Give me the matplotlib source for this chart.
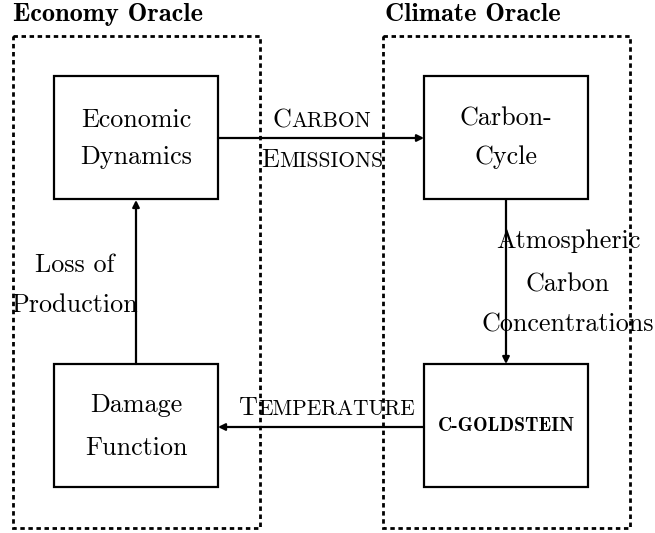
import matplotlib
matplotlib.use("Agg")
import matplotlib.pyplot as plt
from matplotlib.patches import Rectangle

# 面板标题
oracle_titles = ["Economy Oracle", "Climate Oracle"]
# 方框内文字
box_labels = [["Economic", "Dynamics"], ["Carbon-", "Cycle"], ["Damage", "Function"]]
goldstein_label = "C-GOLDSTEIN"
# 箭头标签 (小型大写字母)
emissions_words = ["Carbon", "Emissions"]
temperature_word = "Temperature"
atmos_lines = ["Atmospheric", "Carbon", "Concentrations"]
loss_lines = ["Loss of", "Production"]

W, H = 655, 533
fig = plt.figure(figsize=(W / 100, H / 100), dpi=100)
ax = fig.add_axes([0, 0, 1, 1])
ax.set_xlim(0, W)
ax.set_ylim(H, 0)
ax.axis("off")

FS = 18.8
SERIF = "cmr10"

# 虚线大框
for x0 in (13, 383):
    ax.add_patch(Rectangle((x0, 36), 247, 492, fill=False, lw=2.0,
                           ls=(0, (1.6, 1.3)), ec="black"))
ax.text(13, 21, oracle_titles[0], family="cmb10", fontsize=19, va="baseline", ha="left")
ax.text(385, 21, oracle_titles[1], family="cmb10", fontsize=19, va="baseline", ha="left")

# 实线小框
boxes = [(54, 76), (424, 76), (54, 364), (424, 364)]
for (bx, by) in boxes:
    ax.add_patch(Rectangle((bx, by), 164, 123, fill=False, lw=1.6, ec="black"))

# 每个框内两行文字的基线偏移
line_offsets = [(51, 88), (50, 88), (48, 91)]
for (bx, by), lines, (d0, d1) in zip(boxes[:3], box_labels, line_offsets):
    ax.text(bx + 82, by + d0, lines[0], family=SERIF, fontsize=FS, ha="center", va="baseline")
    ax.text(bx + 82, by + d1, lines[1], family=SERIF, fontsize=FS, ha="center", va="baseline")
ax.text(506, 431, goldstein_label, family="cmb10", fontsize=14, ha="center", va="baseline")


def arrow(x0, y0, x1, y1):
    ax.annotate("", xy=(x1, y1), xytext=(x0, y0),
                arrowprops=dict(arrowstyle="-|>", lw=1.6, color="black",
                                mutation_scale=10, shrinkA=0, shrinkB=0))


arrow(218, 138, 424, 138)
arrow(506, 200, 506, 364)
arrow(424, 427, 218, 427)
arrow(136, 364, 136, 200)

fig.canvas.draw()
renderer = fig.canvas.get_renderer()


def small_caps(word, cx, cy, big=FS, small=FS * 0.82):
    """用两种字号模拟小型大写字母，居中放置。"""
    parts = [(word[0], big), (word[1:].upper(), small)]
    texts = []
    for s, size in parts:
        t = ax.text(0, cy, s, family=SERIF, fontsize=size, ha="left", va="baseline")
        texts.append(t)
    widths = []
    inv = ax.transData.inverted()
    for t in texts:
        bb = t.get_window_extent(renderer)
        p0 = inv.transform((bb.x0, bb.y0))
        p1 = inv.transform((bb.x1, bb.y0))
        widths.append(p1[0] - p0[0])
    x = cx - sum(widths) / 2
    for t, w in zip(texts, widths):
        t.set_x(x)
        x += w


small_caps(emissions_words[0], 322, 127)
small_caps(emissions_words[1], 322, 167)
small_caps(temperature_word, 327, 415)

for line, y in zip(atmos_lines, [248, 292, 332]):
    ax.text(568, y, line, family=SERIF, fontsize=FS, ha="center", va="baseline")
for line, y in zip(loss_lines, [272, 312]):
    ax.text(75, y, line, family=SERIF, fontsize=FS, ha="center", va="baseline")

fig.savefig("out.png", dpi=100)
